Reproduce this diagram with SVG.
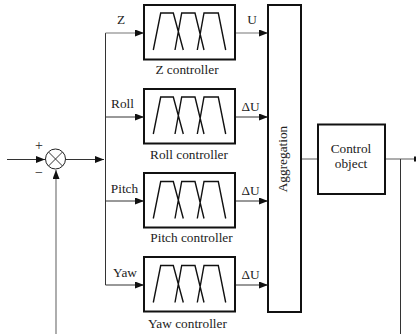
<svg xmlns="http://www.w3.org/2000/svg" width="416" height="334" viewBox="0 0 416 334">
<style>
text{font-family:"Liberation Serif","Times New Roman",serif;font-size:13.300px;fill:#222}
.m{text-anchor:middle}
.b{fill:#fff;stroke:#111;stroke-width:2}
.c{fill:none;stroke:#333;stroke-width:1}
.g{fill:none;stroke:#777;stroke-width:1.2}
.f{fill:none;stroke:#111;stroke-width:1.400}
</style>
<defs>
<marker id="a" markerUnits="userSpaceOnUse" markerWidth="9" markerHeight="7" refX="9" refY="3.5" orient="auto"><path d="M0 0L9 3.5L0 7Z" fill="#111"/></marker>
<g id="mf"><path class="f" d="M153.300 50L160.700 13H173.300L183.300 50M175 50L181.700 13H195L204 50M197.300 50L204 13H218.300L225.700 50"/></g>
</defs>
<g id="connectors">
<path class="c" d="M7 159.500H45" marker-end="url(#a)"/>
<path class="c" d="M66 159.500H104" marker-end="url(#a)"/>
<path class="g" d="M56 334V170" marker-end="url(#a)"/>
<path class="c" d="M105.500 285V33"/>
<path class="g" d="M105.500 33H144" marker-end="url(#a)"/>
<path class="c" d="M105.500 117H144" marker-end="url(#a)"/>
<path class="c" d="M105.500 201H144" marker-end="url(#a)"/>
<path class="c" d="M105.500 285H144" marker-end="url(#a)"/>
<path class="g" d="M235 33H268" marker-end="url(#a)"/>
<path class="c" d="M235 117H268" marker-end="url(#a)"/>
<path class="c" d="M235 201H268" marker-end="url(#a)"/>
<path class="c" d="M235 285H268" marker-end="url(#a)"/>
<path class="g" d="M301 159H318"/>
<path class="g" d="M385 159H416"/>
<path d="M414 156.500H416V161.500H414Z" fill="#111"/>
<path class="c" d="M400.500 159V334"/>
</g>
<g id="sum">
<circle cx="55.500" cy="159" r="10" fill="#fff" stroke="#222" stroke-width="1"/>
<path class="c" d="M48.500 152L62.500 166M62.500 152L48.500 166"/>
<text x="39" y="150" class="m" style="font-size:14px">+</text>
<text x="39" y="177" class="m" style="font-size:14px">−</text>
</g>
<g id="z-controller">
<rect class="b" x="144" y="5" width="91" height="54.500"/>
<use href="#mf"/>
<text x="187" y="73.500" class="m">Z controller</text>
<text x="121" y="24" class="m">Z</text>
<text x="252" y="24" class="m">U</text>
</g>
<g id="roll-controller">
<rect class="b" x="144" y="89" width="91" height="54.500"/>
<use href="#mf" y="84"/>
<text x="189" y="159" class="m">Roll controller</text>
<text x="122.500" y="108" class="m">Roll</text>
<text x="250.500" y="111" class="m">ΔU</text>
</g>
<g id="pitch-controller">
<rect class="b" x="144" y="173" width="91" height="54.500"/>
<use href="#mf" y="168.500"/>
<text x="191.500" y="241.500" class="m">Pitch controller</text>
<text x="124.500" y="193" class="m">Pitch</text>
<text x="250.500" y="195" class="m">ΔU</text>
</g>
<g id="yaw-controller">
<rect class="b" x="144" y="257" width="91" height="54.500"/>
<use href="#mf" y="252.500"/>
<text x="187.500" y="327.500" class="m">Yaw controller</text>
<text x="125" y="277" class="m">Yaw</text>
<text x="250.500" y="279" class="m">ΔU</text>
</g>
<g id="aggregation">
<rect class="b" x="268" y="5" width="33" height="307"/>
<text class="m" transform="translate(287 159) rotate(-90)">Aggregation</text>
</g>
<g id="control-object">
<rect class="b" x="318" y="124.500" width="67" height="69.500"/>
<text x="351" y="153" class="m">Control</text>
<text x="351" y="168" class="m">object</text>
</g>
</svg>
